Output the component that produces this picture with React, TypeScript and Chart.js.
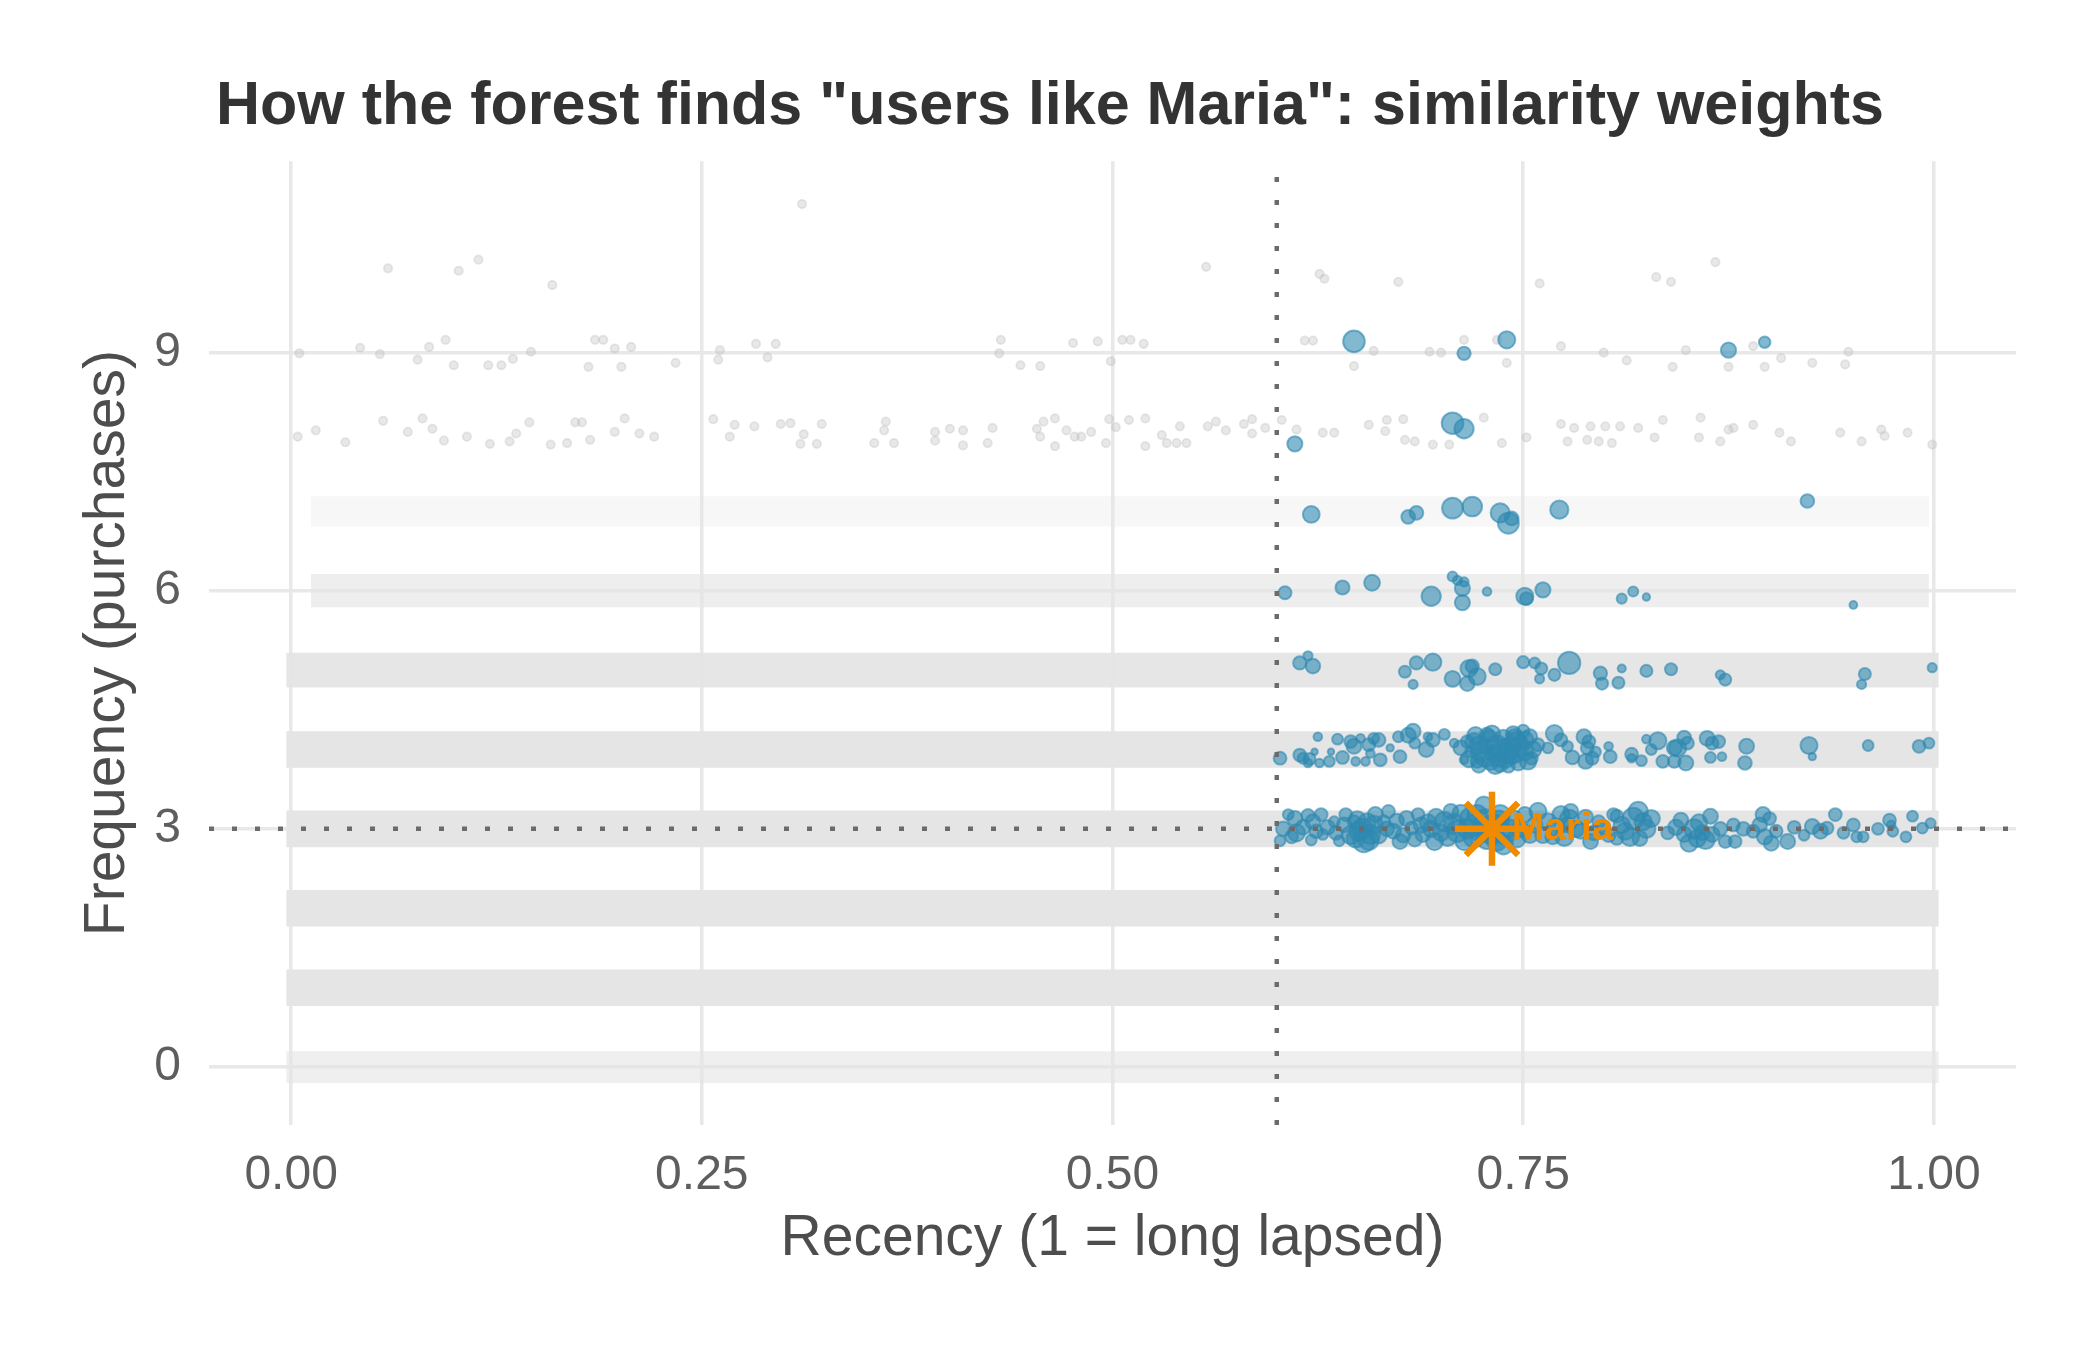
import React, { useEffect, useRef } from "react";
import { Chart, registerables } from "chart.js";

Chart.register(...registerables);

// ---------- text ----------
const TITLE = 'How the forest finds "users like Maria": similarity weights';
const X_TITLE = "Recency (1 = long lapsed)";
const Y_TITLE = "Frequency (purchases)";
const MARIA_LABEL = "Maria";

// ---------- axes ----------
const xTicks = [0, 0.25, 0.5, 0.75, 1];
const yTicks = [0, 3, 6, 9];
const xRange = [-0.05, 1.05];
const yRange = [-0.73, 11.41];

// ---------- reference split + Maria ----------
const splitRecency = 0.6;
const splitFrequency = 3;
const mariaX = 0.731;
const mariaY = 3;
const mariaLabelX = 0.743;

// ---------- dense jittered background (all users), one band per frequency ----------
const bandLevels = [0, 1, 2, 3, 4, 5, 6, 7];
const bandHalfSpread = [0.2, 0.23, 0.23, 0.23, 0.23, 0.22, 0.21, 0.19];
const bandDensity = [0.6, 1, 1, 1, 1, 0.95, 0.65, 0.3];
const bandStart = [-0.003, -0.003, -0.003, -0.003, -0.003, -0.003, 0.012, 0.012];
const bandEnd = [1.003, 1.003, 1.003, 1.003, 1.003, 1.003, 0.997, 0.997];

// ---------- sparse background users (x, y) ----------
const greyF8: [number, number][] = [
  [0.004, 7.94], [0.015, 8.02], [0.033, 7.87], [0.056, 8.14], [0.071, 8.0], [0.08, 8.17], [0.086, 8.04],
  [0.093, 7.89], [0.107, 7.94], [0.121, 7.85], [0.133, 7.88], [0.137, 7.98], [0.145, 8.12], [0.158, 7.84],
  [0.168, 7.86], [0.173, 8.12], [0.177, 8.12], [0.182, 7.9], [0.197, 8.0], [0.203, 8.17], [0.212, 7.98],
  [0.221, 7.94], [0.257, 8.16], [0.27, 8.09], [0.267, 7.94], [0.282, 8.07], [0.298, 8.1], [0.304, 8.11],
  [0.312, 7.97], [0.31, 7.85], [0.32, 7.85], [0.323, 8.1], [0.355, 7.86], [0.367, 7.86], [0.361, 8.02],
  [0.362, 8.13], [0.392, 8.0], [0.401, 8.04], [0.409, 8.02], [0.392, 7.89], [0.409, 7.83], [0.424, 7.86],
  [0.427, 8.05], [0.454, 8.04], [0.458, 8.13], [0.456, 7.94], [0.465, 8.17], [0.465, 7.82], [0.472, 8.02],
  [0.477, 7.94], [0.481, 7.94], [0.487, 8.0], [0.498, 8.16], [0.502, 8.06], [0.496, 7.86], [0.51, 8.15],
  [0.52, 8.17], [0.52, 7.82], [0.53, 7.96], [0.533, 7.86], [0.539, 7.86], [0.545, 7.86], [0.541, 8.07],
  [0.558, 8.07], [0.563, 8.13], [0.569, 8.02], [0.58, 8.1], [0.585, 8.16], [0.585, 7.98], [0.593, 8.05],
  [0.603, 8.15], [0.612, 8.03], [0.628, 7.99], [0.635, 7.99], [0.656, 8.09], [0.667, 8.15], [0.677, 8.16],
  [0.666, 8.01], [0.678, 7.9], [0.684, 7.88], [0.695, 7.84], [0.705, 7.84], [0.726, 8.18], [0.737, 7.86],
  [0.752, 7.93], [0.773, 8.1], [0.781, 8.05], [0.791, 8.07], [0.8, 8.07], [0.809, 8.07], [0.777, 7.88],
  [0.789, 7.9], [0.796, 7.88], [0.804, 7.86], [0.82, 8.05], [0.83, 7.93], [0.835, 8.15], [0.858, 8.18],
  [0.857, 7.93], [0.87, 7.88], [0.875, 8.03], [0.878, 8.05], [0.89, 8.09], [0.906, 7.99], [0.913, 7.88],
  [0.943, 7.99], [0.956, 7.88], [0.968, 8.03], [0.97, 7.95], [0.984, 7.99], [0.999, 7.84],
];
const greyF9: [number, number][] = [
  [0.005, 8.99], [0.042, 9.06], [0.054, 8.98], [0.077, 8.91], [0.084, 9.07], [0.094, 9.16], [0.099, 8.84],
  [0.12, 8.84], [0.128, 8.84], [0.135, 8.92], [0.146, 9.01], [0.181, 8.82], [0.185, 9.16], [0.19, 9.16],
  [0.197, 9.05], [0.201, 8.82], [0.207, 9.07], [0.234, 8.87], [0.261, 9.03], [0.26, 8.91], [0.283, 9.11],
  [0.29, 8.94], [0.295, 9.11], [0.432, 9.16], [0.431, 8.99], [0.444, 8.84], [0.456, 8.83], [0.476, 9.12],
  [0.491, 9.14], [0.506, 9.16], [0.511, 9.16], [0.519, 9.11], [0.499, 8.89], [0.617, 9.15], [0.622, 9.15],
  [0.647, 8.83], [0.659, 9.02], [0.693, 9.01], [0.7, 9.0], [0.714, 9.16], [0.734, 9.16], [0.74, 8.87],
  [0.773, 9.08], [0.799, 9.0], [0.813, 8.9], [0.841, 8.82], [0.849, 9.03], [0.875, 8.82], [0.89, 9.08],
  [0.897, 8.82], [0.907, 8.93], [0.926, 8.87], [0.946, 8.85], [0.948, 9.01],
];
const greyF10: [number, number][] = [
  [0.059, 10.06], [0.102, 10.03], [0.114, 10.17], [0.159, 9.85], [0.311, 10.87], [0.557, 10.08],
  [0.626, 9.99], [0.629, 9.93], [0.674, 9.89], [0.76, 9.87], [0.831, 9.95], [0.84, 9.89], [0.867, 10.14],
];

// ---------- users similar to Maria: (recency, frequency, relative similarity weight) ----------
const simF9: [number, number, number][] = [
  [0.647, 9.14, 0.89], [0.714, 8.99, 0.43], [0.74, 9.16, 0.64], [0.875, 9.03, 0.53], [0.897, 9.13, 0.33],
];
const simF8: [number, number, number][] = [
  [0.707, 8.11, 0.89], [0.714, 8.04, 0.76], [0.611, 7.85, 0.53],
];
const simF7: [number, number, number][] = [
  [0.621, 6.96, 0.62], [0.68, 6.93, 0.45], [0.685, 6.98, 0.45], [0.707, 7.04, 0.85], [0.719, 7.06, 0.78],
  [0.736, 6.98, 0.75], [0.741, 6.85, 0.85], [0.743, 6.91, 0.45], [0.772, 7.02, 0.7], [0.923, 7.13, 0.45],
];
const simF6: [number, number, number][] = [
  [0.605, 5.975, 0.41], [0.64, 6.04, 0.47], [0.658, 6.1, 0.57], [0.694, 5.93, 0.76], [0.707, 6.18, 0.24],
  [0.71, 6.13, 0.2], [0.714, 6.11, 0.2], [0.713, 6.03, 0.53], [0.713, 5.85, 0.53], [0.728, 5.99, 0.17],
  [0.751, 5.93, 0.64], [0.752, 5.9, 0.4], [0.762, 6.01, 0.53], [0.81, 5.9, 0.25], [0.817, 5.99, 0.25],
  [0.825, 5.92, 0.1], [0.951, 5.82, 0.12],
];
const simF5: [number, number, number][] = [
  [0.614, 5.09, 0.43], [0.619, 5.18, 0.2], [0.622, 5.05, 0.5], [0.678, 4.98, 0.36], [0.683, 4.82, 0.2],
  [0.685, 5.09, 0.43], [0.695, 5.1, 0.64], [0.707, 4.89, 0.57], [0.716, 4.83, 0.5], [0.717, 5.02, 0.64],
  [0.722, 4.92, 0.64], [0.719, 5.05, 0.43], [0.733, 5.01, 0.36], [0.75, 5.1, 0.36], [0.757, 5.09, 0.29],
  [0.761, 5.02, 0.36], [0.76, 4.89, 0.2], [0.769, 4.94, 0.36], [0.778, 5.09, 0.93], [0.797, 4.96, 0.43],
  [0.798, 4.83, 0.36], [0.808, 4.84, 0.36], [0.81, 5.02, 0.14], [0.825, 4.99, 0.36], [0.84, 5.01, 0.36],
  [0.87, 4.94, 0.2], [0.873, 4.88, 0.36], [0.958, 4.95, 0.36], [0.956, 4.82, 0.2], [0.999, 5.03, 0.2],
];
const simF4: [number, number, number][] = [
  [0.602, 3.89, 0.4], [0.614, 3.93, 0.4], [0.616, 3.89, 0.29], [0.619, 3.83, 0.17], [0.623, 3.97, 0.05],
  [0.625, 4.16, 0.17], [0.626, 3.83, 0.17], [0.632, 3.85, 0.29], [0.633, 3.97, 0.05], [0.637, 4.13, 0.29],
  [0.645, 4.1, 0.4], [0.647, 4.04, 0.52], [0.648, 3.85, 0.17], [0.651, 4.14, 0.17], [0.654, 3.85, 0.17],
  [0.656, 4.06, 0.4], [0.659, 4.14, 0.29], [0.657, 3.95, 0.17], [0.663, 3.87, 0.4], [0.669, 4.02, 0.1],
  [0.674, 4.16, 0.29], [0.675, 3.91, 0.4], [0.68, 4.18, 0.52], [0.683, 4.23, 0.52], [0.684, 4.08, 0.29],
  [0.691, 4.0, 0.52], [0.692, 4.16, 0.17], [0.702, 4.19, 0.29], [0.708, 4.08, 0.17], [0.714, 3.87, 0.17],
  [0.72, 4.1, 0.64], [0.724, 3.97, 0.76], [0.728, 4.18, 0.52], [0.73, 3.85, 0.64], [0.734, 4.04, 0.88],
  [0.738, 4.14, 0.64], [0.739, 3.89, 0.76], [0.742, 4.02, 0.88], [0.744, 4.2, 0.52], [0.746, 4.1, 0.76],
  [0.747, 3.83, 0.52], [0.751, 3.97, 0.64], [0.754, 4.16, 0.52], [0.755, 3.89, 0.4], [0.736, 3.81, 0.52],
  [0.722, 3.85, 0.4], [0.726, 4.04, 0.52], [0.718, 3.97, 0.29], [0.741, 3.79, 0.4], [0.75, 4.23, 0.4],
  [0.732, 3.95, 0.64], [0.743, 3.91, 0.52], [0.716, 4.1, 0.4], [0.729, 4.12, 0.76], [0.735, 3.91, 0.76],
  [0.751, 4.12, 0.64], [0.759, 4.06, 0.4], [0.765, 4.02, 0.29], [0.769, 4.2, 0.64], [0.773, 4.12, 0.4],
  [0.777, 4.04, 0.29], [0.787, 4.16, 0.52], [0.789, 4.02, 0.4], [0.788, 3.85, 0.52], [0.792, 3.89, 0.4],
  [0.794, 3.97, 0.29], [0.802, 4.04, 0.17], [0.803, 3.91, 0.4], [0.816, 3.94, 0.4], [0.816, 3.89, 0.17],
  [0.822, 3.86, 0.29], [0.825, 4.13, 0.17], [0.828, 4.0, 0.29], [0.832, 4.11, 0.64], [0.835, 3.85, 0.4],
  [0.842, 4.02, 0.52], [0.844, 4.02, 0.64], [0.842, 3.85, 0.4], [0.848, 4.15, 0.45], [0.849, 3.83, 0.52],
  [0.862, 4.14, 0.52], [0.865, 4.08, 0.4], [0.869, 4.1, 0.4], [0.864, 3.9, 0.29], [0.871, 3.91, 0.17],
  [0.886, 4.04, 0.52], [0.885, 3.83, 0.45], [0.924, 4.05, 0.64], [0.926, 3.91, 0.1], [0.96, 4.05, 0.29],
  [0.991, 4.04, 0.4], [0.997, 4.08, 0.29],
  [0.712, 4.02, 0.5], [0.717, 3.88, 0.6], [0.721, 4.18, 0.6], [0.723, 4.05, 0.7], [0.727, 3.9, 0.75],
  [0.731, 4.2, 0.6], [0.733, 3.8, 0.65], [0.737, 4.0, 0.85], [0.74, 3.95, 0.8], [0.745, 3.95, 0.75],
  [0.748, 4.05, 0.7], [0.753, 3.85, 0.6], [0.756, 4.0, 0.6], [0.745, 4.15, 0.65], [0.723, 3.8, 0.5],
  [0.62, 3.88, 0.35], [0.64, 3.9, 0.4], [0.662, 4.12, 0.45], [0.695, 4.12, 0.45], [0.78, 3.9, 0.45],
  [0.79, 4.1, 0.4], [0.85, 4.08, 0.4],
];
const simF3: [number, number, number][] = [
  [0.602, 2.85, 0.29], [0.607, 3.18, 0.29], [0.611, 3.13, 0.52], [0.612, 2.95, 0.64], [0.619, 3.17, 0.4],
  [0.622, 3.09, 0.52], [0.621, 2.86, 0.29], [0.627, 3.18, 0.4], [0.628, 2.93, 0.29], [0.635, 3.09, 0.29],
  [0.638, 2.85, 0.29], [0.642, 3.18, 0.4], [0.647, 3.09, 0.4], [0.65, 2.97, 0.76], [0.653, 2.84, 0.88],
  [0.655, 3.09, 0.64], [0.657, 2.93, 0.76], [0.66, 3.18, 0.52], [0.665, 3.09, 0.4], [0.668, 3.22, 0.4],
  [0.671, 2.97, 0.52], [0.675, 2.84, 0.52], [0.679, 3.13, 0.52], [0.682, 3.01, 0.4], [0.686, 3.18, 0.4],
  [0.689, 2.93, 0.52], [0.696, 2.84, 0.64], [0.702, 3.09, 0.76], [0.706, 3.22, 0.52], [0.71, 2.97, 0.88],
  [0.714, 2.84, 0.64], [0.718, 3.13, 0.88], [0.722, 3.18, 0.76], [0.726, 3.3, 0.64], [0.728, 2.88, 0.88],
  [0.736, 3.18, 0.76], [0.738, 2.8, 0.76], [0.742, 3.01, 0.64], [0.751, 3.18, 0.52], [0.754, 2.93, 0.64],
  [0.759, 3.22, 0.64], [0.765, 3.09, 0.64], [0.768, 2.9, 0.52], [0.773, 3.18, 0.64], [0.777, 3.05, 0.52],
  [0.779, 3.22, 0.52], [0.785, 2.97, 0.52], [0.791, 2.84, 0.52], [0.796, 3.09, 0.4], [0.805, 3.18, 0.4],
  [0.807, 2.88, 0.4], [0.716, 3.0, 0.76], [0.732, 3.05, 0.88], [0.724, 2.96, 0.8], [0.7, 2.95, 0.6],
  [0.692, 3.08, 0.6], [0.648, 2.88, 0.7], [0.807, 3.16, 0.4], [0.812, 2.97, 0.64], [0.817, 3.13, 0.88],
  [0.82, 3.22, 0.76], [0.823, 3.09, 0.64], [0.828, 3.13, 0.64], [0.821, 2.88, 0.52], [0.838, 2.95, 0.4],
  [0.846, 3.11, 0.52], [0.848, 2.93, 0.52], [0.851, 2.82, 0.64], [0.854, 3.0, 0.76], [0.856, 2.88, 0.64],
  [0.859, 2.95, 0.52], [0.864, 3.16, 0.52], [0.865, 2.93, 0.52], [0.873, 2.84, 0.4], [0.878, 3.05, 0.4],
  [0.879, 2.84, 0.4], [0.89, 2.97, 0.4], [0.896, 3.18, 0.52], [0.9, 3.13, 0.4], [0.901, 2.82, 0.52],
  [0.904, 2.97, 0.4], [0.911, 2.84, 0.52], [0.921, 2.92, 0.29], [0.926, 3.03, 0.52], [0.931, 2.97, 0.52],
  [0.935, 3.01, 0.4], [0.94, 3.18, 0.4], [0.951, 3.05, 0.4], [0.953, 2.9, 0.29], [0.957, 2.9, 0.29],
  [0.973, 3.11, 0.4], [0.975, 2.97, 0.29], [0.974, 3.05, 0.17], [0.983, 2.9, 0.29], [0.987, 3.16, 0.29],
  [0.993, 3.01, 0.29], [0.998, 3.07, 0.25],
  [0.604, 3.0, 0.5], [0.609, 2.9, 0.4], [0.616, 3.02, 0.5], [0.624, 2.97, 0.45], [0.631, 3.02, 0.5],
  [0.636, 2.95, 0.45], [0.641, 3.05, 0.5], [0.645, 2.92, 0.7], [0.649, 3.12, 0.6], [0.652, 3.0, 0.8],
  [0.656, 2.86, 0.8], [0.659, 3.05, 0.7], [0.662, 2.92, 0.6], [0.667, 3.0, 0.5], [0.673, 3.1, 0.5],
  [0.677, 2.92, 0.5], [0.684, 2.87, 0.5], [0.688, 3.05, 0.55], [0.694, 3.0, 0.6], [0.697, 3.15, 0.6],
  [0.704, 2.9, 0.7], [0.708, 3.06, 0.8], [0.712, 3.2, 0.6], [0.72, 2.9, 0.85], [0.721, 3.05, 0.9],
  [0.727, 3.12, 0.8], [0.73, 2.95, 0.9], [0.734, 2.85, 0.8], [0.735, 3.1, 0.85], [0.739, 2.93, 0.8],
  [0.744, 3.12, 0.7], [0.746, 2.88, 0.7], [0.748, 3.0, 0.6], [0.757, 3.05, 0.55], [0.762, 2.92, 0.55],
  [0.77, 3.02, 0.7], [0.775, 2.9, 0.7], [0.778, 3.12, 0.75], [0.782, 3.0, 0.6], [0.788, 3.15, 0.5],
  [0.793, 2.95, 0.5], [0.799, 3.02, 0.45], [0.802, 2.92, 0.45], [0.81, 3.05, 0.6], [0.815, 2.9, 0.7],
  [0.825, 3.0, 0.7], [0.843, 3.02, 0.55], [0.857, 3.08, 0.6], [0.861, 2.86, 0.7], [0.87, 3.0, 0.45],
  [0.884, 3.0, 0.45], [0.894, 3.05, 0.5], [0.897, 2.9, 0.55], [0.915, 3.02, 0.4], [0.945, 2.95, 0.35],
  [0.966, 3.0, 0.35],
];

// ---------- styles ----------
const FONT = '"Liberation Sans", Arial, Helvetica, sans-serif';
const ORANGE = "#F08A00";
const BLUE_FILL = "rgba(46,137,176,0.6)";
const GREY_FILL = "rgba(190,190,190,0.36)";
const GRID = "#e8e8e8";
const DOT = "#6b6b6b";
const sizeOf = (w: number) => 2.8 + 9 * w;

export default function App() {
  const ref = useRef<HTMLCanvasElement | null>(null);

  useEffect(() => {
    if (!ref.current) return;

    const greyPts = [...greyF8, ...greyF9, ...greyF10].map(([x, y]) => ({ x, y }));
    const simPts = [...simF9, ...simF8, ...simF7, ...simF6, ...simF5, ...simF4, ...simF3].map(
      ([x, y, w]) => ({ x, y, w })
    );

    const datasets: any[] = [];

    // Maria (on top)
    datasets.push({
      type: "scatter",
      data: [{ x: mariaX, y: mariaY }],
      pointStyle: "star",
      pointRadius: 37,
      borderColor: ORANGE,
      backgroundColor: ORANGE,
      borderWidth: 6.5,
      order: 0,
    });
    // dotted split lines
    datasets.push({
      type: "line",
      data: [
        { x: splitRecency, y: yRange[0] },
        { x: splitRecency, y: yRange[1] },
      ],
      borderColor: DOT,
      borderWidth: 4.5,
      borderDash: [5, 18],
      pointRadius: 0,
      fill: false,
      order: 1,
    });
    datasets.push({
      type: "line",
      data: [
        { x: xRange[0], y: splitFrequency },
        { x: xRange[1], y: splitFrequency },
      ],
      borderColor: DOT,
      borderWidth: 4.5,
      borderDash: [5, 18],
      pointRadius: 0,
      fill: false,
      order: 1,
    });
    // similar users
    datasets.push({
      type: "scatter",
      data: simPts,
      pointRadius: (c: any) => sizeOf(c.raw ? c.raw.w : 0),
      backgroundColor: BLUE_FILL,
      borderColor: BLUE_FILL,
      borderWidth: 2,
      order: 2,
    });
    // sparse grey users
    datasets.push({
      type: "scatter",
      data: greyPts,
      pointRadius: 4.2,
      backgroundColor: GREY_FILL,
      borderColor: GREY_FILL,
      borderWidth: 1.8,
      order: 3,
    });
    // dense grey bands
    bandLevels.forEach((lvl, i) => {
      const h = bandHalfSpread[i];
      datasets.push({
        type: "line",
        data: [
          { x: bandStart[i], y: lvl + h },
          { x: bandEnd[i], y: lvl + h },
        ],
        borderWidth: 0,
        borderColor: "rgba(0,0,0,0)",
        pointRadius: 0,
        backgroundColor: `rgba(229,229,229,${bandDensity[i]})`,
        fill: "+1",
        order: 4,
      });
      datasets.push({
        type: "line",
        data: [
          { x: bandStart[i], y: lvl - h },
          { x: bandEnd[i], y: lvl - h },
        ],
        borderWidth: 0,
        borderColor: "rgba(0,0,0,0)",
        pointRadius: 0,
        fill: false,
        order: 4,
      });
    });

    const labelPlugin = {
      id: "mariaLabel",
      afterDatasetsDraw(chart: any) {
        const { ctx, scales } = chart;
        ctx.save();
        ctx.font = `bold 39px ${FONT}`;
        ctx.fillStyle = ORANGE;
        ctx.textAlign = "left";
        ctx.textBaseline = "middle";
        ctx.fillText(
          MARIA_LABEL,
          scales.x.getPixelForValue(mariaLabelX),
          scales.y.getPixelForValue(mariaY)
        );
        ctx.restore();
      },
    };

    const chart = new Chart(ref.current, {
      type: "scatter",
      data: { datasets },
      plugins: [labelPlugin],
      options: {
        animation: false,
        responsive: false,
        devicePixelRatio: 1,
        events: [],
        layout: { padding: 0 },
        plugins: {
          legend: { display: false },
          tooltip: { enabled: false },
          title: {
            display: true,
            text: TITLE,
            color: "#333333",
            font: { family: FONT, size: 61, weight: "bold" },
            padding: { top: 71, bottom: 17 },
          },
        },
        scales: {
          x: {
            type: "linear",
            min: xRange[0],
            max: xRange[1],
            afterBuildTicks: (s: any) => {
              s.ticks = xTicks.map((v) => ({ value: v }));
            },
            afterFit: (s: any) => {
              s.height = 225;
            },
            ticks: {
              callback: (v: any) => Number(v).toFixed(2),
              color: "#5e5e5e",
              font: { family: FONT, size: 48 },
              padding: 22,
              maxRotation: 0,
              autoSkip: false,
            },
            grid: { color: GRID, lineWidth: 3.5, drawTicks: false },
            border: { display: false },
            title: {
              display: true,
              text: X_TITLE,
              color: "#4d4d4d",
              font: { family: FONT, size: 57 },
              padding: { top: 0, bottom: 77 },
            },
          },
          y: {
            type: "linear",
            min: yRange[0],
            max: yRange[1],
            afterBuildTicks: (s: any) => {
              s.ticks = yTicks.map((v) => ({ value: v }));
            },
            afterFit: (s: any) => {
              s.width = 209;
            },
            ticks: {
              color: "#5e5e5e",
              font: { family: FONT, size: 48 },
              padding: 28,
            },
            grid: { color: GRID, lineWidth: 3.5, drawTicks: false },
            border: { display: false },
            title: {
              display: true,
              text: Y_TITLE,
              color: "#4d4d4d",
              font: { family: FONT, size: 57 },
              padding: { top: 74, bottom: 0 },
            },
          },
          yRight: {
            type: "linear",
            axis: "y",
            position: "right",
            display: true,
            grid: { display: false },
            ticks: { display: false },
            border: { display: false },
            afterFit: (s: any) => {
              s.width = 84;
            },
          },
        },
      } as any,
    });

    return () => chart.destroy();
  }, []);

  return (
    <div style={{ position: "fixed", left: 0, top: 0, width: 2100, height: 1350, background: "#ffffff" }}>
      <canvas ref={ref} width={2100} height={1350} style={{ display: "block", width: 2100, height: 1350 }} />
    </div>
  );
}
